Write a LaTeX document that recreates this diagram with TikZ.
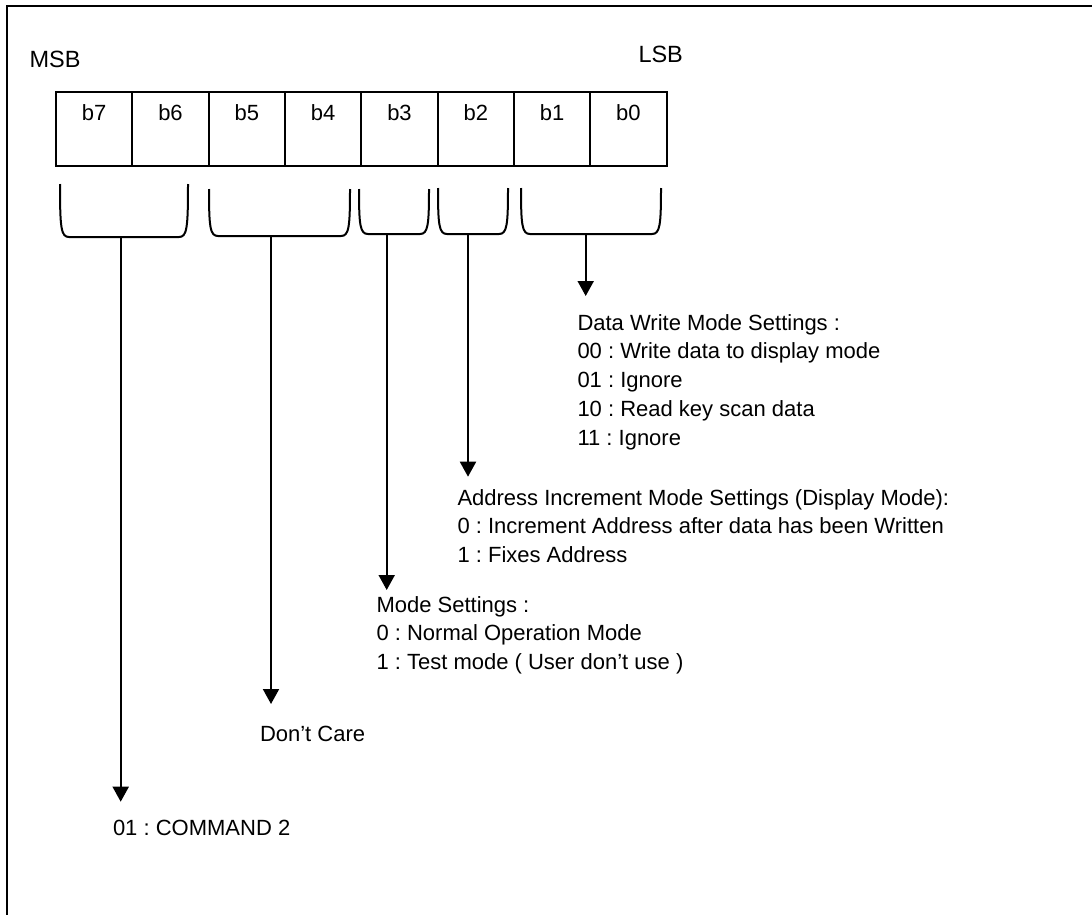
\documentclass[tikz,border=0pt]{standalone}
\usepackage{fontspec}
\setmainfont{Liberation Sans}
\usetikzlibrary{arrows.meta}
\frenchspacing

% draws a bracket under a group of bits: left, right, top, bottom
\newcommand\bitbracket[4]{%
  \draw[bracketline] (#1,#3) .. controls (#1,#4-9) and (#1+1,#4) .. (#1+9,#4)
    -- (#2-9,#4) .. controls (#2-1,#4) and (#2,#4-9) .. (#2,#3);}

\begin{document}
\begin{tikzpicture}[x=1pt,y=-1pt,
  every node/.style={inner sep=0pt, outer sep=0pt, font=\fontsize{22}{28.8}\selectfont\frenchspacing},
  cell/.style={draw, line width=2pt, minimum width=76.33pt, minimum height=74pt,
               text height=16pt, text depth=32pt},
  txt/.style={anchor=base west},
  endlabel/.style={anchor=base west, font=\fontsize{23.5}{28.8}\selectfont},
  bracketline/.style={line width=2pt},
  pointer/.style={line width=2pt, -{Triangle[width=16pt,length=15pt]}},
  frameline/.style={line width=2pt}]
\useasboundingbox (0,0) rectangle (1092,915);

% outer frame (only top and left edges fall inside the page)
\draw[frameline] (6.5,915) -- (6.5,6) -- (1092,6);

% register bits b7 .. b0
\foreach \b [count=\i from 0] in {7,6,5,4,3,2,1,0}
  \node[cell] (c\b) at ({56+76.33*\i+38.165},129) {b\b};

\node[endlabel] (msb) at (29.5,68) {MSB};
\node[endlabel] (lsb) at (638.5,63) {LSB};

% brackets grouping the bits
\bitbracket{60}{188}{184}{237}
\bitbracket{209}{350}{189}{236}
\bitbracket{359}{429}{189}{234}
\bitbracket{438}{508}{188}{234}
\bitbracket{521}{661}{188}{234}

% stems leaving each bracket and the points they reach
\coordinate (s76) at (120.7,237);  \coordinate (t76) at (120.7,801.7);
\coordinate (s54) at (271,236);    \coordinate (t54) at (271,704);
\coordinate (s3)  at (386.7,234);  \coordinate (t3)  at (386.7,590);
\coordinate (s2)  at (468,234);    \coordinate (t2)  at (468,476.7);
\coordinate (s10) at (585.7,234);  \coordinate (t10) at (585.7,296);

\draw[pointer] (s76) -- (t76);
\draw[pointer] (s54) -- (t54);
\draw[pointer] (s3)  -- (t3);
\draw[pointer] (s2)  -- (t2);
\draw[pointer] (s10) -- (t10);

% field descriptions
\node[txt] (dwm) at (577.5,330) {\begin{tabular}[t]{@{}l@{}}
  Data Write Mode Settings :\\
  00 : Write data to display mode\\
  01 : Ignore\\
  10 : Read key scan data\\
  11 : Ignore\end{tabular}};

\node[txt] (aim) at (457.5,505) {\begin{tabular}[t]{@{}l@{}}
  Address Increment Mode Settings (Display Mode):\\
  0 : Increment Address after data has been Written\\
  1 : Fixes Address\end{tabular}};

\node[txt] (mds) at (376.5,612) {\begin{tabular}[t]{@{}l@{}}
  Mode Settings :\\
  0 : Normal Operation Mode\\
  1 : Test mode ( User don’t use )\end{tabular}};

\node[txt] (dc) at (260,741.7) {Don’t Care};
\node[txt] (cmd) at (113,835) {01 : COMMAND 2};
\end{tikzpicture}
\end{document}
